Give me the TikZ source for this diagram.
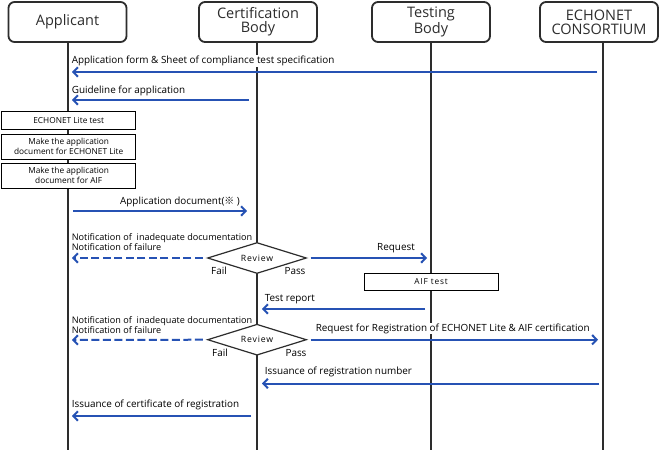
\documentclass[tikz,border=0pt]{standalone}
\usepackage{fontspec}
\setmainfont{Open Sans}
\newfontfamily\cjk{Noto Sans CJK JP}
\usetikzlibrary{arrows.meta,shapes.geometric}
\definecolor{msgblue}{RGB}{38,82,180}
\definecolor{lifegray}{RGB}{45,45,45}
\begin{document}
\begin{tikzpicture}[x=1pt,y=-1pt,
  actor/.style={draw=lifegray, line width=1.8pt, rounded corners=6pt, minimum width=118pt, minimum height=40pt, inner sep=0pt, align=center, font=\fontsize{14.5}{14}\selectfont, text=lifegray},
  life/.style={draw=lifegray, line width=2pt},
  msg/.style={draw=msgblue, line width=2pt, -{Straight Barb[length=4.5pt,width=9.5pt]}},
  fmsg/.style={msg, dash pattern=on 8pt off 3.5pt},
  lbl/.style={fill=white, inner sep=0.6pt, align=left, font=\fontsize{9.9}{10}\selectfont},
  nlbl/.style={lbl, font=\fontsize{9.1}{10}\selectfont},
  plain/.style={inner sep=0.6pt, font=\fontsize{9.9}{10}\selectfont},
  actbox/.style={draw, line width=1pt, fill=white, align=center, inner sep=0pt, minimum width=134pt, font=\fontsize{8.3}{10}\selectfont},
  review/.style={diamond, draw=lifegray, line width=1.2pt, fill=white, minimum width=99pt, minimum height=31pt, aspect=3.2, inner sep=0pt, font=\fontsize{8.7}{9}\selectfont\addfontfeature{LetterSpace=10}}
]
\useasboundingbox (0,0) rectangle (660,450);
\fill[white] (0,0) rectangle (660,450);

% actors
\node[actor] (hA) at (67.5,22) {Applicant};
\node[actor] (hC) at (258,22) {Certification\\Body};
\node[actor] (hT) at (431,22) {Testing\\Body};
\node[actor] (hE) at (599,22) {ECHONET\\CONSORTIUM};

% lifelines
\coordinate (bA) at (68,450);
\coordinate (bC) at (257,450);
\coordinate (bT) at (431,450);
\coordinate (bE) at (603,450);
\draw[life] (hA.south -| bA) -- (bA);
\draw[life] (hC.south -| bC) -- (bC);
\draw[life] (hT.south -| bT) -- (bT);
\draw[life] (hE.south -| bE) -- (bE);

% labels
\node[lbl, anchor=west] (l1) at (71,61) {Application form \& Sheet of compliance test specification};
\node[lbl, anchor=west] (l2) at (71,90.5) {Guideline for application};
\node[lbl] (l3) at (180,202) {Application document({\cjk ※} )};
\node[nlbl, anchor=west] (l4) at (71,242) {Notification of~ inadequate documentation\\Notification of failure};
\node[lbl] (l5) at (396,248) {Request};
\node[lbl, anchor=west] (l6) at (264,299) {Test report};
\node[nlbl, anchor=west] (l7) at (71,325) {Notification of~ inadequate documentation\\Notification of failure};
\node[lbl, anchor=west] (l8) at (315,328.5) {Request for Registration of ECHONET Lite \& AIF certification};
\node[lbl, anchor=west] (l9) at (264,372) {Issuance of registration number};
\node[lbl, anchor=west] (l10) at (71,405) {Issuance of certificate of registration};

% activity boxes
\node[actbox, minimum height=17.5pt] (t1) at (68.7,120.5) {ECHONET Lite test};
\node[actbox, minimum height=25pt] (t2) at (68.7,146.8) {Make the application\\document for ECHONET Lite};
\node[actbox, minimum height=25pt] (t3) at (68.7,175.8) {Make the application\\document for AIF};
\node[actbox, minimum height=17pt, font=\fontsize{8.3}{9}\selectfont\addfontfeature{LetterSpace=10}] (t4) at (431,281.5) {AIF test};

% review diamonds
\node[review] (rv1) at (257,258) {Review};
\node[plain] (f1) at (219,270.7) {Fail};
\node[plain] (p1) at (295,270.7) {Pass};
\node[review] (rv2) at (257,339.7) {Review};
\node[plain] (f2) at (220,352.7) {Fail};
\node[plain] (p2) at (296,352.7) {Pass};

% message endpoints
\coordinate (m1s) at (597,72);   \coordinate (m1e) at (72,72);
\coordinate (m2s) at (249,100);  \coordinate (m2e) at (72,100);
\coordinate (m3s) at (73,211);   \coordinate (m3e) at (247,211);
\coordinate (m4e) at (72,258);
\coordinate (m5e) at (427,257);
\coordinate (m6s) at (425,309);  \coordinate (m6e) at (262,309);
\coordinate (m7e) at (72,340);
\coordinate (m8e) at (598,339);
\coordinate (m9s) at (599,383.5); \coordinate (m9e) at (262,383.5);
\coordinate (m10s) at (251,416); \coordinate (m10e) at (72,416);

% messages
\draw[msg] (m1s) -- (m1e);
\draw[msg] (m2s) -- (m2e);
\draw[msg] (m3s) -- (m3e);
\draw[fmsg, shorten <=4pt] (rv1.west) -- (m4e);
\draw[msg, shorten <=3.5pt] (rv1.east) -- (m5e |- rv1.east);
\draw[msg] (m6s) -- (m6e);
\draw[fmsg, shorten <=4pt] (rv2.west) -- (m7e);
\draw[msg, shorten <=3.5pt] (rv2.east) -- (m8e |- rv2.east);
\draw[msg] (m9s) -- (m9e);
\draw[msg] (m10s) -- (m10e);
\end{tikzpicture}
\end{document}
